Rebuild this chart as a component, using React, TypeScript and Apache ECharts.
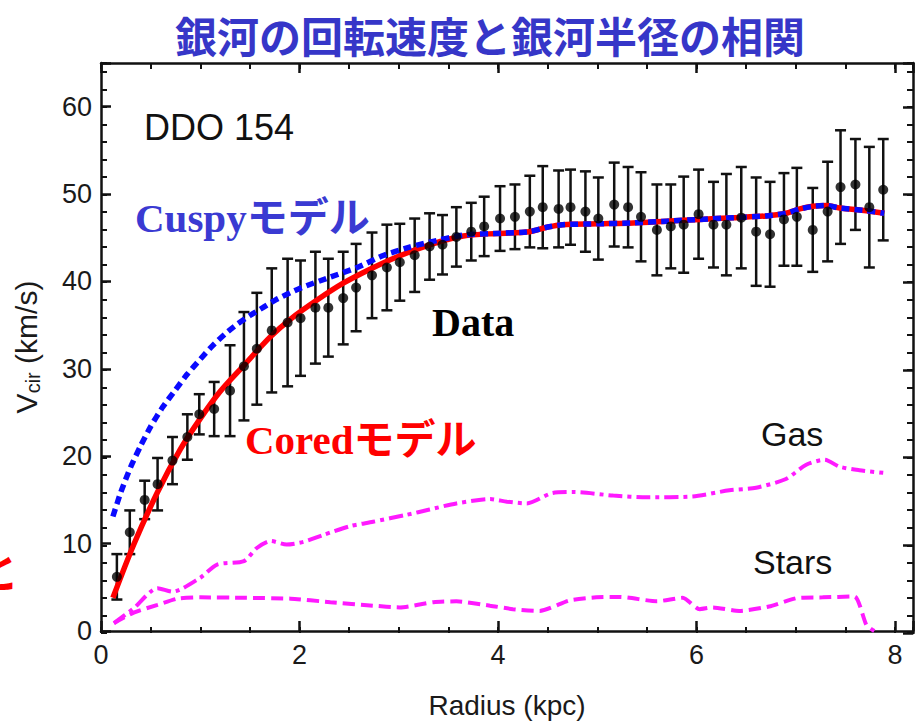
import { useEffect, useRef } from "react";
import * as echarts from "echarts";

// Observed rotation curve of DDO 154: radius (kpc), circular velocity (km/s) and its error
const radius = [
  0.16, 0.29, 0.44, 0.57, 0.72, 0.87, 0.99, 1.14, 1.3, 1.44, 1.57, 1.72, 1.88, 2.01,
  2.16, 2.29, 2.44, 2.57, 2.73, 2.88, 3.01, 3.16, 3.31, 3.44, 3.58, 3.73, 3.86, 4.02,
  4.17, 4.32, 4.45, 4.61, 4.73, 4.88, 5.01, 5.17, 5.31, 5.44, 5.6, 5.74, 5.87, 6.02,
  6.17, 6.3, 6.45, 6.6, 6.74, 6.88, 7.01, 7.17, 7.32, 7.45, 7.6, 7.74, 7.88,
];
const velocity = [
  6.2, 11.3, 15.0, 16.8, 19.5, 22.2, 24.8, 25.4, 27.5, 30.3, 32.3, 34.4, 35.3, 35.8,
  37.0, 37.0, 38.1, 39.3, 40.7, 41.6, 42.2, 43.0, 44.0, 44.2, 45.1, 45.7, 46.3, 47.2,
  47.4, 48.0, 48.5, 48.3, 48.5, 48.0, 47.2, 48.8, 48.5, 47.4, 45.9, 46.3, 46.5, 47.7,
  46.5, 46.5, 47.3, 45.7, 45.4, 47.1, 47.4, 45.9, 48.0, 50.8, 51.1, 48.5, 50.5,
];
const velocityErr = [
  2.6, 2.5, 2.2, 3.0, 2.7, 2.6, 2.3, 3.1, 5.2, 6.2, 6.4, 7.1, 7.3, 6.6,
  6.4, 5.6, 5.3, 5.0, 4.9, 4.9, 4.4, 4.2, 3.8, 3.4, 3.4, 3.3, 3.4, 3.7,
  3.7, 4.1, 4.7, 4.4, 4.3, 4.6, 4.7, 4.8, 4.6, 5.1, 5.2, 4.8, 5.5, 5.1,
  4.9, 5.8, 5.8, 6.2, 6.0, 5.3, 5.6, 4.8, 5.7, 6.5, 5.2, 6.9, 5.8,
];

// Cored (pseudo-isothermal) halo model
const coredR = [
  0.12, 0.33, 0.57, 0.8, 1.0, 1.2, 1.44, 1.7, 1.91, 2.18, 2.44, 2.71, 2.98, 3.31, 3.65,
  3.99, 4.32, 4.49, 4.65, 5.0, 5.36, 5.7, 6.03, 6.37, 6.7, 6.9, 7.04, 7.17, 7.31, 7.44,
  7.71, 7.89,
];
const coredV = [
  3.8, 9.9, 15.9, 20.8, 24.3, 27.4, 30.4, 33.6, 35.7, 37.9, 39.8, 41.4, 42.8, 44.2, 45.2,
  45.5, 45.7, 46.2, 46.5, 46.6, 46.7, 46.9, 47.1, 47.3, 47.5, 47.8, 48.3, 48.6, 48.7, 48.4,
  48.1, 47.8,
];

// Cuspy (NFW) halo model
const cuspyR = [
  0.12, 0.2, 0.3, 0.4, 0.5, 0.62, 0.75, 0.87, 1.0, 1.12, 1.25, 1.37, 1.5, 1.63, 1.76,
  2.0, 2.31, 2.58, 2.85, 3.1, 3.31, 3.65, 3.99, 4.32, 4.49, 4.65, 5.0, 5.36, 5.7, 6.03,
  6.37, 6.7, 6.9, 7.04, 7.17, 7.31, 7.44, 7.71, 7.89,
];
const cuspyV = [
  13.1, 15.9, 18.8, 21.2, 23.4, 25.6, 27.6, 29.4, 31.1, 32.6, 34.0, 35.1, 36.1, 37.0, 37.9,
  39.2, 40.5, 41.6, 43.0, 43.9, 44.5, 45.3, 45.5, 45.7, 46.2, 46.5, 46.6, 46.7, 46.9, 47.1,
  47.3, 47.5, 47.8, 48.3, 48.6, 48.7, 48.4, 48.1, 47.8,
];

// Baryonic contributions
const gasR = [
  0.13, 0.33, 0.57, 0.72, 1.0, 1.17, 1.44, 1.57, 1.71, 1.87, 2.04, 2.24, 2.51, 2.74, 3.08,
  3.31, 3.58, 3.92, 4.09, 4.29, 4.55, 4.76, 5.16, 5.5, 5.96, 6.33, 6.6, 6.9, 7.1, 7.29,
  7.44, 7.64, 7.88,
];
const gasV = [
  0.9, 2.6, 4.9, 4.5, 6.1, 7.6, 8.0, 9.5, 10.3, 9.9, 10.2, 11.0, 12.0, 12.5, 13.3,
  13.9, 14.6, 15.1, 14.8, 14.6, 15.8, 15.9, 15.5, 15.3, 15.4, 16.1, 16.4, 17.4, 19.0, 19.6,
  18.8, 18.4, 18.1,
];
const starsR = [
  0.13, 0.33, 0.57, 0.77, 1.0, 1.44, 1.91, 2.31, 2.74, 3.01, 3.35, 3.58, 3.92, 4.15, 4.42,
  4.72, 4.99, 5.23, 5.6, 5.86, 6.03, 6.16, 6.43, 6.73, 7.03, 7.27, 7.59, 7.71, 7.79,
];
const starsV = [
  0.9, 2.1, 3.0, 3.7, 3.85, 3.8, 3.7, 3.3, 2.9, 2.7, 3.3, 3.4, 2.9, 2.5, 2.3,
  3.5, 3.85, 3.9, 3.4, 3.8, 2.5, 2.7, 2.3, 2.8, 3.8, 3.85, 3.95, 0.7, 0.0,
];

const xTicksMajor = 2;
const xTicksMinor = 0.5;
const yTicksMajor = 10;
const yTicksMinor = 2;

const X_MAX = 8.18;
const Y_MAX = 65;

const INK = "#111";
const LABEL_FONT = '"Liberation Sans", Arial, sans-serif';
const SERIF_JP = '"Liberation Serif", "Times New Roman", "Noto Sans CJK JP", serif';
const SANS_JP = '"Noto Sans CJK JP", sans-serif';

const pairs = (xs: number[], ys: number[]) => xs.map((x, i) => [x, ys[i]]);

const isMultiple = (v: number, step: number) => {
  const q = v / step;
  return Math.abs(q - Math.round(q)) < 1e-6;
};

export default function App() {
  const ref = useRef<HTMLDivElement>(null);

  useEffect(() => {
    if (!ref.current) return;
    const chart = echarts.init(ref.current, null, { renderer: "svg" });

    const gridBox = { left: 101, right: 3, top: 63, bottom: 91 };

    const xAxisOf = (gridIndex: number, position: string, interval: number, major: boolean, labels: boolean) => ({
      type: "value",
      gridIndex,
      position,
      min: 0,
      max: X_MAX,
      interval,
      splitLine: { show: false },
      axisLine: { show: major, onZero: false, lineStyle: { color: INK, width: 2.5 } },
      axisTick: {
        show: true,
        inside: true,
        length: major ? 10 : 6,
        lineStyle: { color: INK, width: major ? 2.5 : 2 },
      },
      axisLabel: labels
        ? {
            show: true,
            margin: 10,
            fontSize: 27,
            fontFamily: LABEL_FONT,
            color: "#1a1a1a",
            formatter: (v: number) => (isMultiple(v, xTicksMajor) ? String(v) : ""),
          }
        : { show: false },
    });

    const yAxisOf = (gridIndex: number, position: string, interval: number, major: boolean, labels: boolean) => ({
      type: "value",
      gridIndex,
      position,
      min: 0,
      max: Y_MAX,
      interval,
      splitLine: { show: false },
      axisLine: { show: major, onZero: false, lineStyle: { color: INK, width: 2.5 } },
      axisTick: {
        show: true,
        inside: true,
        length: major ? 10 : 6,
        lineStyle: { color: INK, width: major ? 2.5 : 2 },
      },
      axisLabel: labels
        ? {
            show: true,
            margin: 9,
            fontSize: 27,
            fontFamily: LABEL_FONT,
            color: "#1a1a1a",
            formatter: (v: number) => (isMultiple(v, yTicksMajor) ? String(v) : ""),
          }
        : { show: false },
    });

    const xMain: any = xAxisOf(0, "bottom", xTicksMajor, true, true);
    xMain.name = "Radius (kpc)";
    xMain.nameLocation = "middle";
    xMain.nameGap = 60;
    xMain.nameTextStyle = { fontSize: 28, fontFamily: LABEL_FONT, color: "#1a1a1a" };

    const yMain: any = yAxisOf(0, "left", yTicksMajor, true, true);
    yMain.name = "{v|V}{s|cir}{n| (km/s)}";
    yMain.nameLocation = "middle";
    yMain.nameRotate = 90;
    yMain.nameGap = 58;
    yMain.nameTextStyle = {
      color: "#1a1a1a",
      fontFamily: LABEL_FONT,
      rich: {
        v: { fontSize: 30, fontFamily: LABEL_FONT, color: "#1a1a1a", lineHeight: 34 },
        s: { fontSize: 20, fontFamily: LABEL_FONT, color: "#1a1a1a", verticalAlign: "bottom", lineHeight: 22 },
        n: { fontSize: 30, fontFamily: LABEL_FONT, color: "#1a1a1a", lineHeight: 34 },
      },
    };

    const errData = radius.map((r, i) => [r, velocity[i], velocityErr[i]]);

    const option: any = {
      animation: false,
      backgroundColor: "#ffffff",
      title: {
        text: "銀河の回転速度と銀河半径の相関",
        left: 170,
        top: 8,
        textStyle: {
          fontSize: 42,
          fontWeight: "bold",
          fontFamily: SANS_JP,
          color: "#3636c8",
        },
      },
      grid: [gridBox, gridBox, gridBox, gridBox],
      xAxis: [
        xMain,
        xAxisOf(1, "top", xTicksMajor, true, false),
        xAxisOf(2, "bottom", xTicksMinor, false, false),
        xAxisOf(3, "top", xTicksMinor, false, false),
      ],
      yAxis: [
        yMain,
        yAxisOf(1, "right", yTicksMajor, true, false),
        yAxisOf(2, "left", yTicksMinor, false, false),
        yAxisOf(3, "right", yTicksMinor, false, false),
      ],
      series: [
        {
          name: "Error",
          type: "custom",
          xAxisIndex: 0,
          yAxisIndex: 0,
          data: errData,
          encode: { x: 0, y: 1 },
          silent: true,
          z: 2,
          renderItem: (_params: any, api: any) => {
            const x = api.value(0);
            const y = api.value(1);
            const e = api.value(2);
            const top = api.coord([x, y + e]);
            const bot = api.coord([x, y - e]);
            const hw = 5.5;
            const style = { stroke: INK, lineWidth: 2.5 };
            return {
              type: "group",
              children: [
                { type: "line", shape: { x1: top[0], y1: top[1], x2: bot[0], y2: bot[1] }, style },
                { type: "line", shape: { x1: top[0] - hw, y1: top[1], x2: top[0] + hw, y2: top[1] }, style },
                { type: "line", shape: { x1: bot[0] - hw, y1: bot[1], x2: bot[0] + hw, y2: bot[1] }, style },
              ],
            };
          },
        },
        {
          name: "Gas",
          type: "line",
          data: pairs(gasR, gasV),
          showSymbol: false,
          symbol: "none",
          smooth: 0.25,
          z: 3,
          lineStyle: { color: "#ff1aff", width: 4, type: [14, 5, 4, 5], cap: "butt" },
        },
        {
          name: "Stars",
          type: "line",
          data: pairs(starsR, starsV),
          showSymbol: false,
          symbol: "none",
          smooth: 0.2,
          z: 3,
          lineStyle: { color: "#ff1aff", width: 4, type: [12, 6], cap: "butt" },
        },
        {
          name: "Cored",
          type: "line",
          data: pairs(coredR, coredV),
          showSymbol: false,
          symbol: "none",
          smooth: 0.3,
          z: 4,
          lineStyle: { color: "#ff0000", width: 5.5, type: "solid" },
        },
        {
          name: "Cuspy",
          type: "line",
          data: pairs(cuspyR, cuspyV),
          showSymbol: false,
          symbol: "none",
          smooth: 0.2,
          z: 5,
          lineStyle: { color: "#0a0aff", width: 5.5, type: [8, 5], cap: "butt" },
        },
        {
          name: "Data",
          type: "scatter",
          data: pairs(radius, velocity),
          symbol: "circle",
          symbolSize: 10,
          z: 6,
          itemStyle: { color: "#000" },
        },
      ],
      graphic: [
        {
          type: "text",
          x: 144,
          y: 127,
          style: { text: "DDO 154", fill: "#111", fontSize: 36, fontFamily: LABEL_FONT, verticalAlign: "middle" },
        },
        {
          type: "text",
          x: 135,
          y: 218,
          style: {
            text: "Cuspyモデル",
            fill: "#3a3ad2",
            fontSize: 41,
            fontWeight: "bold",
            fontFamily: SERIF_JP,
            verticalAlign: "middle",
          },
        },
        {
          type: "text",
          x: 432,
          y: 322,
          style: {
            text: "Data",
            fill: "#000",
            fontSize: 40,
            fontWeight: "bold",
            fontFamily: SERIF_JP,
            verticalAlign: "middle",
          },
        },
        {
          type: "text",
          x: 245,
          y: 440,
          style: {
            text: "Coredモデル",
            fill: "#ff0000",
            fontSize: 41,
            fontWeight: "bold",
            fontFamily: SERIF_JP,
            verticalAlign: "middle",
          },
        },
        {
          type: "text",
          x: 761,
          y: 434,
          style: { text: "Gas", fill: "#111", fontSize: 34, fontFamily: LABEL_FONT, verticalAlign: "middle" },
        },
        {
          type: "text",
          x: 753,
          y: 562,
          style: { text: "Stars", fill: "#111", fontSize: 34, fontFamily: LABEL_FONT, verticalAlign: "middle" },
        },
        {
          type: "text",
          x: -25,
          y: 569,
          style: {
            text: "と",
            fill: "#ff0000",
            fontSize: 44,
            fontWeight: "bold",
            fontFamily: SANS_JP,
            verticalAlign: "middle",
          },
        },
      ],
    };

    chart.setOption(option);
    return () => chart.dispose();
  }, []);

  return (
    <div
      ref={ref}
      style={{ position: "absolute", left: 0, top: 0, width: 916, height: 724, background: "#fff" }}
    />
  );
}
